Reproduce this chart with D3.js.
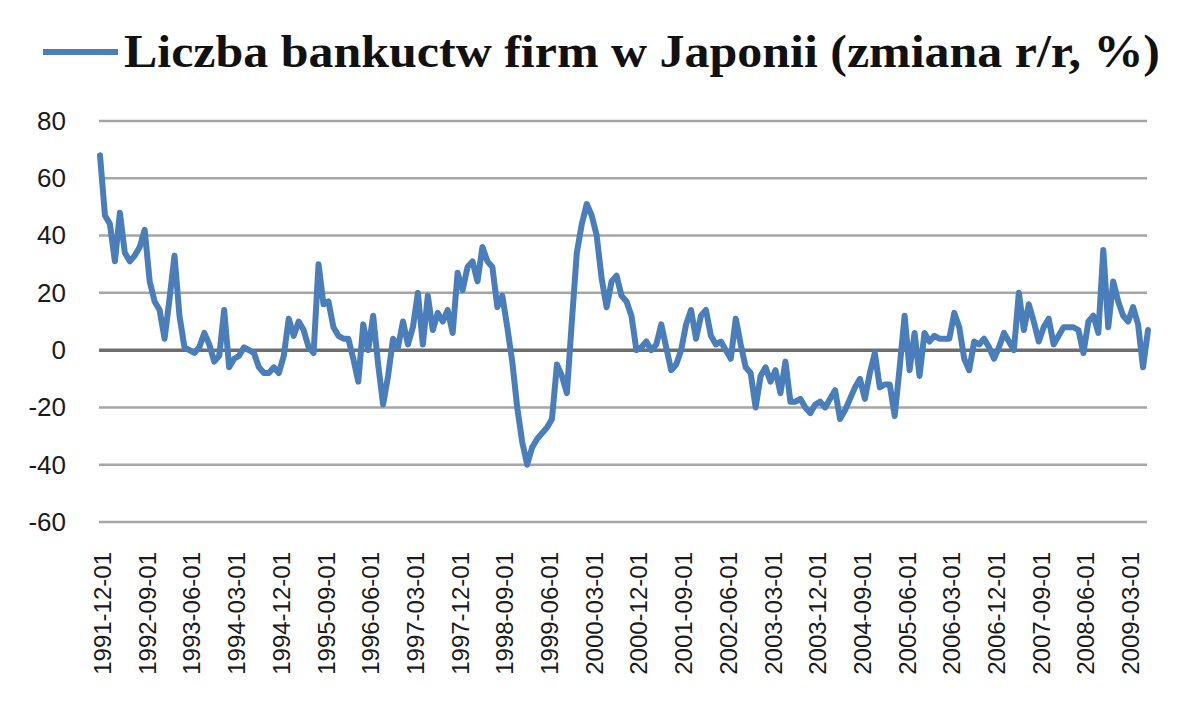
<!DOCTYPE html>
<html>
<head>
<meta charset="utf-8">
<script src="https://cdn.jsdelivr.net/npm/d3@7"></script>
<style>
  html, body { margin: 0; padding: 0; background: #ffffff; }
  svg { display: block; }
</style>
</head>
<body>
<svg id="chart" width="1200" height="716"></svg>
<script>
// ---- data ----
const seriesName = "Liczba bankuctw firm w Japonii (zmiana r/r, %)";
const startMonth = "1991-12-01";
// monthly y/y change, 1991-12 .. 2009-06
const values1991_1994 = [68,47,44,31,48,34,31,33,36,42,24,17,14,4,18,33,12,1,0,-1,1,6,2,-4,-2,14,-6,-3,-2,1,0];
const values1994_1997 = [-1,-6,-8,-8,-6,-8,-2,11,5,10,7,1,-1,30,16,17,8,5,4,4,-3,-11,9,0,12,-5,-19,-9,4,1,10,2];
const values1997_2000 = [8,20,2,19,7,13,10,14,6,27,21,29,31,24,36,31,29,15,19,8,-4,-20,-32,-40,-34,-31,-29,-27,-24,-5,-9,-15,10,34,44,51];
const values2000_2003 = [47,40,25,15,24,26,19,17,12,0,1,3,0,2,9,1,-7,-5,0,9,14,4,12,14,5,2,3,0,-3,11,2,-6,-8,-20];
const values2003_2006 = [-9,-6,-11,-7,-15,-4,-18,-18,-17,-20,-22,-19,-18,-20,-17,-14,-24,-21,-17,-13,-10,-17,-8,-1,-13,-12,-12,-23,-6,12,-7,6,-9,6,3,5];
const values2006_2009 = [4,4,4,13,8,-3,-7,3,2,4,1,-3,1,6,3,0,20,7,16,10,3,8,11,2,5,8,8,8,7,-1,10,12,6,35,8,24,17,12,10,15,9,-6,7];
const values = [].concat(values1991_1994, values1994_1997, values1997_2000, values2000_2003, values2003_2006, values2006_2009);

const yTicks = [80, 60, 40, 20, 0, -20, -40, -60];
const xTickLabels = ["1991-12-01","1992-09-01","1993-06-01","1994-03-01","1994-12-01","1995-09-01",
  "1996-06-01","1997-03-01","1997-12-01","1998-09-01","1999-06-01","2000-03-01","2000-12-01",
  "2001-09-01","2002-06-01","2003-03-01","2003-12-01","2004-09-01","2005-06-01","2006-03-01",
  "2006-12-01","2007-09-01","2008-06-01","2009-03-01"];

// categories (month labels) derived from start month
const parse = d3.timeParse("%Y-%m-%d");
const fmt = d3.timeFormat("%Y-%m-%d");
const categories = values.map((v, i) => fmt(d3.timeMonth.offset(parse(startMonth), i)));
const data = values.map((v, i) => ({ cat: categories[i], idx: i, v: v }));

// ---- layout ----
const svg = d3.select("#chart");
const plot = { left: 99, right: 1148, top: 121, bottom: 522 };

const x = d3.scalePoint().domain(categories).range([plot.left + 1, plot.right]);
const y = d3.scaleLinear().domain([-60, 80]).range([plot.bottom, plot.top]);

// gridlines
svg.append("g").selectAll("line").data(yTicks).join("line")
  .attr("x1", plot.left).attr("x2", plot.right - 1)
  .attr("y1", d => y(d)).attr("y2", d => y(d))
  .attr("stroke", d => d === 0 ? "#6e6e6e" : "#a6a6a6")
  .attr("stroke-width", d => d === 0 ? 3.5 : 2.5);

// y axis labels
const yAxis = d3.axisLeft(y).tickValues(yTicks).tickFormat(d => String(d)).tickSize(0).tickPadding(0);
const yg = svg.append("g").attr("transform", `translate(66,0)`).call(yAxis);
yg.select(".domain").remove();
yg.selectAll("text")
  .attr("font-family", "'Liberation Sans', Arial, sans-serif")
  .attr("font-size", 26).attr("fill", "#1a1a1a").attr("dx", 0);

// x axis labels (rotated)
const xAxis = d3.axisBottom(x).tickValues(xTickLabels).tickSize(0).tickPadding(0);
const xg = svg.append("g").attr("transform", `translate(0,552)`).call(xAxis);
xg.select(".domain").remove();
xg.selectAll("text")
  .attr("font-family", "'Liberation Sans', Arial, sans-serif")
  .attr("font-size", 24).attr("fill", "#1a1a1a")
  .attr("text-anchor", "end")
  .attr("dy", null)
  .attr("dominant-baseline", "central")
  .attr("transform", "translate(2,0) rotate(-90)")
  .attr("x", 0).attr("y", 0);

// series line
const line = d3.line().x(d => x(d.cat)).y(d => y(d.v));
svg.append("path").datum(data)
  .attr("d", line)
  .attr("fill", "none")
  .attr("stroke", "#4a7ebb")
  .attr("stroke-width", 6)
  .attr("stroke-linejoin", "round")
  .attr("stroke-linecap", "round");

// legend
const lg = svg.append("g");
lg.append("line").attr("x1", 43).attr("x2", 118).attr("y1", 52).attr("y2", 52)
  .attr("stroke", "#4a7ebb").attr("stroke-width", 6);
lg.append("text").attr("x", 124).attr("y", 67)
  .attr("font-family", "'Liberation Serif', 'Times New Roman', serif")
  .attr("font-weight", "bold").attr("font-size", 46).attr("fill", "#111")
  .attr("textLength", 1036).attr("lengthAdjust", "spacingAndGlyphs")
  .text(seriesName);
</script>
</body>
</html>
